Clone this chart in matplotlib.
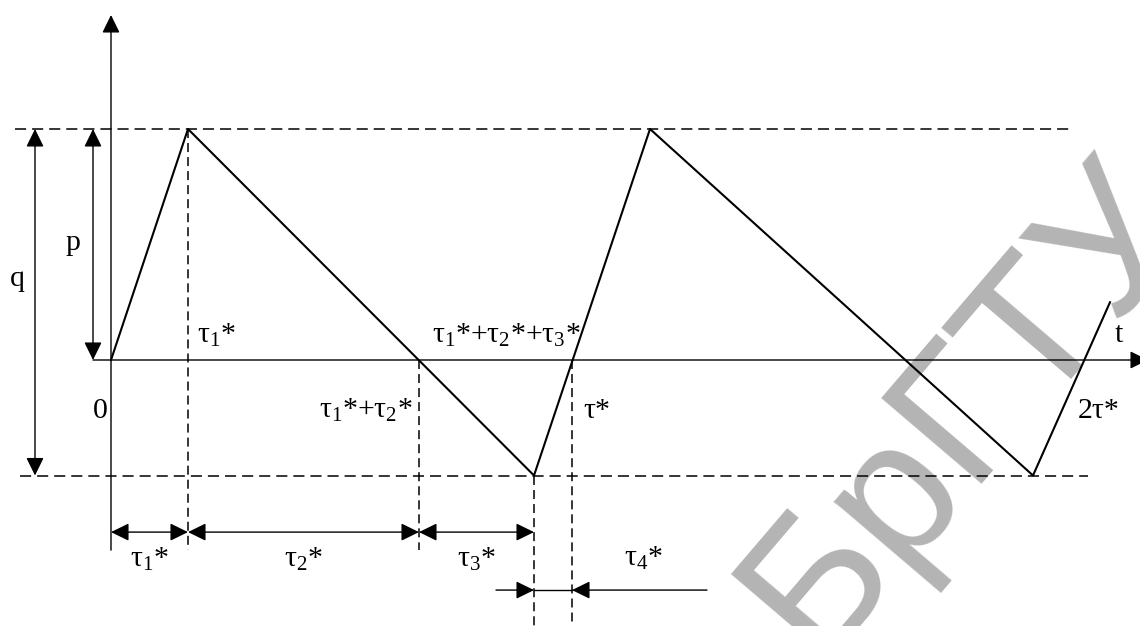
import math
import numpy as np
import matplotlib
matplotlib.use('Agg')
import matplotlib.pyplot as plt
from matplotlib.textpath import TextPath
from matplotlib.font_manager import FontProperties
from matplotlib.path import Path

plt.rcParams['mathtext.fontset'] = 'custom'
plt.rcParams['mathtext.rm'] = 'Liberation Serif'
plt.rcParams['mathtext.it'] = 'Liberation Serif'
plt.rcParams['mathtext.bf'] = 'Liberation Serif:bold'
plt.rcParams['font.family'] = ['Liberation Serif', 'DejaVu Serif']
plt.rcParams['lines.scale_dashes'] = False

# ---- data (time axis in arbitrary units, level in units of p) ----
wave_t = [0.0, 0.77, 4.23, 5.39, 9.22, 9.99]
wave_y = [0.0, 1.0, -0.5, 1.0, -0.5, 0.25]
p_level = 1.0
low_level = -0.5
tau1 = 0.77          # tau1*
tau12 = 3.08         # tau1*+tau2*
tau123 = 4.23        # tau1*+tau2*+tau3*
tau_star = 4.61      # tau*
two_tau = 9.72       # 2tau*

dim_labels = [r'$\tau_1$*', r'$\tau_2$*', r'$\tau_3$*']
dim_bounds = [0.0, tau1, tau12, tau123]

WATERMARK = 'БрГТУ'

W_PX, H_PX = 1140, 626
fig = plt.figure(figsize=(W_PX / 100, H_PX / 100), dpi=100)
ax = fig.add_axes([0, 0, 1, 1])
ax.set_xlim(-1.11, 10.29)
ax.set_ylim(-1.1515, 1.5584)
ax.axis('off')
ax.patch.set_visible(False)

K = 'black'
FS = 21.5
HDASH = (8.0, 4.3)
VDASH = (6.5, 3.6)


def arrow(x0, y0, x1, y1, style, lw=1.0):
    ax.annotate('', xy=(x1, y1), xytext=(x0, y0), annotation_clip=False,
                arrowprops=dict(arrowstyle=style + ',head_length=0.55,head_width=0.27',
                                color=K, lw=lw, shrinkA=0, shrinkB=0,
                                mutation_scale=20))


# ---- watermark placement (layout): put the top-left corners of 'Б' and 'Г'
# at their places in the reference picture (pixels, y up)
wm_fp = FontProperties(family='Liberation Sans')


def ink_top_left(text, idx):
    g = TextPath((0, 0), text[idx], size=100, prop=wm_fp)
    f = TextPath((0, 0), text[:idx + 1], size=100, prop=wm_fp)
    n = len(g.vertices)
    v = f.vertices[-n:]
    c = f.codes[-n:]
    v = v[c != Path.CLOSEPOLY]
    return np.array([v[:, 0].min(), v[:, 1].max()]) / 100.0


b_loc = ink_top_left(WATERMARK, 0)
g_loc = ink_top_left(WATERMARK, 2)
B_t = np.array([731.0, H_PX - 574.0])
G_t = np.array([882.0, H_PX - 397.0])
d_loc = g_loc - b_loc
d_t = G_t - B_t
size_px = np.hypot(*d_t) / np.hypot(*d_loc)
theta = math.atan2(d_t[1], d_t[0]) - math.atan2(d_loc[1], d_loc[0])
Rm = np.array([[math.cos(theta), -math.sin(theta)], [math.sin(theta), math.cos(theta)]])
anchor = B_t - np.array([b_loc[0] * size_px, 0.0]) - Rm @ np.array([0.0, b_loc[1] * size_px])

ax.text(anchor[0] / W_PX, anchor[1] / H_PX, WATERMARK, transform=fig.transFigure,
        fontsize=size_px * 72 / 100, family='Liberation Sans', color='#b4b4b4',
        rotation=math.degrees(theta), rotation_mode='anchor',
        ha='left', va='baseline', zorder=0.5)

# main waveform
ax.plot(wave_t, wave_y, color=K, lw=1.5, zorder=4)

# axes
arrow(-0.18, 0.0, 10.37, 0.0, '-|>')
arrow(0.0, -0.823, 0.0, 1.4935, '-|>')

# horizontal dashed levels
ax.plot([-0.96, 9.61], [p_level, p_level], color=K, lw=1.1, dashes=HDASH)
ax.plot([-0.91, 9.77], [low_level, low_level], color=K, lw=1.1, dashes=HDASH)

# vertical dashed guides
ax.plot([tau1, tau1], [p_level, -0.823], color=K, lw=1.1, dashes=VDASH)
ax.plot([tau12, tau12], [0.0, -0.823], color=K, lw=1.1, dashes=VDASH)
ax.plot([tau123, tau123], [low_level, -1.17], color=K, lw=1.1, dashes=VDASH)
ax.plot([tau_star, tau_star], [0.0, -1.17], color=K, lw=1.1, dashes=VDASH)

# q and p dimension arrows
arrow(-0.76, low_level, -0.76, p_level, '<|-|>')
arrow(-0.18, 0.0, -0.18, p_level, '<|-|>')

# tau1, tau2, tau3 dimensions
for i in range(3):
    arrow(dim_bounds[i], -0.745, dim_bounds[i + 1], -0.745, '<|-|>')
    ax.text((dim_bounds[i] + dim_bounds[i + 1]) / 2, -0.896, dim_labels[i],
            ha='center', va='baseline', fontsize=FS)

# tau4 dimension
arrow(3.85, -0.996, tau123, -0.996, '-|>')
ax.plot([tau123, tau_star], [-0.996, -0.996], color=K, lw=1.0)
arrow(5.96, -0.996, tau_star, -0.996, '-|>')
ax.text(5.32, -0.892, r'$\tau_4$*', ha='center', va='baseline', fontsize=FS)

# labels
ax.text(-1.01, 0.32, 'q', ha='left', va='baseline', fontsize=FS)
ax.text(-0.46, 0.476, 'p', ha='left', va='baseline', fontsize=FS)
ax.text(0.86, 0.074, r'$\tau_1$*', ha='left', va='baseline', fontsize=FS)
ax.text(-0.18, -0.251, '0', ha='left', va='baseline', fontsize=FS)
ax.text(3.02, -0.251, r'$\tau_1$*+$\tau_2$*', ha='right', va='baseline', fontsize=FS)
ax.text(3.21, 0.074, r'$\tau_1$*+$\tau_2$*+$\tau_3$*', ha='left', va='baseline', fontsize=FS)
ax.text(4.72, -0.251, 'τ*', ha='left', va='baseline', fontsize=FS)
ax.text(9.67, -0.251, '2τ*', ha='left', va='baseline', fontsize=FS)
ax.text(10.04, 0.078, 't', ha='left', va='baseline', fontsize=FS)

fig.savefig('out.png', dpi=100)
